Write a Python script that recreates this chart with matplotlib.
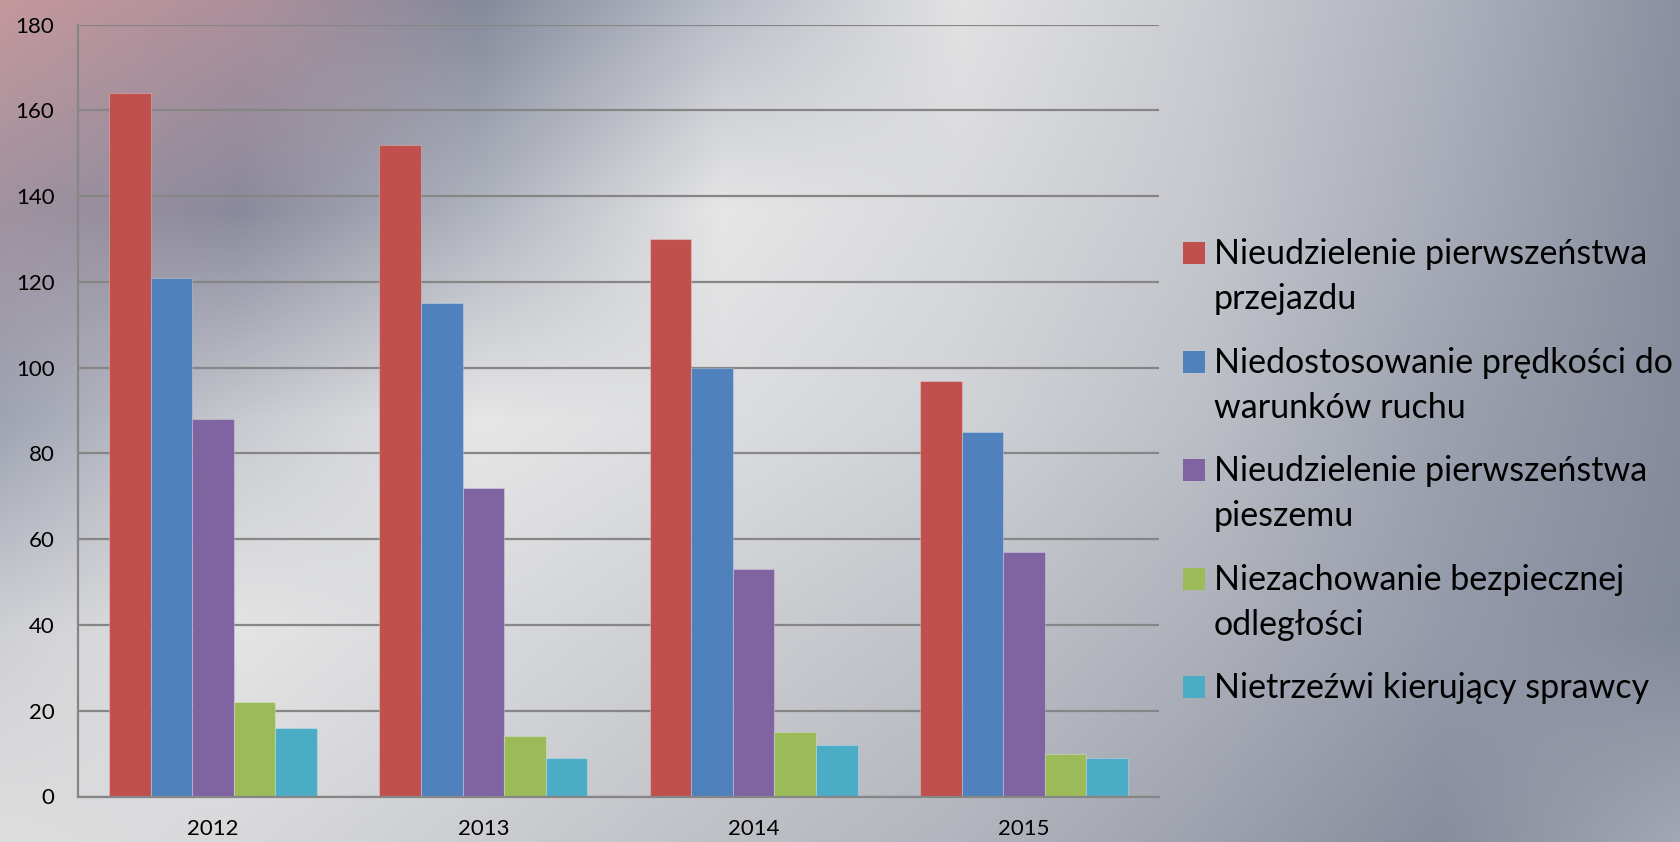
import numpy as np
import matplotlib
matplotlib.use("Agg")
import matplotlib.pyplot as plt
from matplotlib.patches import Rectangle
from matplotlib.colors import to_rgb

# ---------------- data ----------------
years = ["2012", "2013", "2014", "2015"]
series_names = [
    "Nieudzielenie pierwszeństwa\nprzejazdu",
    "Niedostosowanie prędkości do\nwarunków ruchu",
    "Nieudzielenie pierwszeństwa\npieszemu",
    "Niezachowanie bezpiecznej\nodległości",
    "Nietrzeźwi kierujący sprawcy",
]
s_przejazd = [164, 152, 130, 97]
s_predkosc = [121, 115, 100, 85]
s_pieszy = [88, 72, 53, 57]
s_odleglosc = [22, 14, 15, 10]
s_nietrzezwi = [16, 9, 12, 9]
series_values = [s_przejazd, s_predkosc, s_pieszy, s_odleglosc, s_nietrzezwi]
colors = ["#c0504d", "#4f81bd", "#8064a2", "#9bbb59", "#4bacc6"]
y_ticks = [0, 20, 40, 60, 80, 100, 120, 140, 160, 180]

W, H = 1681, 842
FONT = ["Lato", "DejaVu Sans"]
plt.rcParams["font.family"] = FONT

fig = plt.figure(figsize=(W / 100, H / 100), dpi=100)

# ---------------- background gradient ----------------
gx = [0, 240, 480, 720, 960, 1200, 1440, 1681]
gy = [0, 210, 420, 630, 842]
grid_hex = [
    ["#c4989d", "#ae909b", "#84899a", "#b8bcc6", "#e2e2e3", "#cbcdd2", "#aeb2bd", "#8a90a0"],
    ["#a0929f", "#8a8a9c", "#b0b4be", "#e6e6e6", "#d8d9dc", "#c6c8ce", "#a8acb8", "#878d9d"],
    ["#9fa4b2", "#c8cad0", "#e6e6e6", "#dcdde0", "#d0d2d6", "#bcbfc6", "#9ca1ae", "#868c9c"],
    ["#cfd0d4", "#e4e4e4", "#d8d9dc", "#ccced2", "#c0c2c8", "#aeb1ba", "#969bab", "#82899a"],
    ["#dedede", "#d8d8db", "#cbcdd1", "#bec0c6", "#b2b5bd", "#9ea2ae", "#878d9d", "#a4a8b4"],
]
grid = np.array([[to_rgb(c) for c in row] for row in grid_hex])
xs = np.arange(W)
ys = np.arange(H)
rows = np.stack([np.stack([np.interp(xs, gx, grid[r, :, ch]) for ch in range(3)], -1)
                 for r in range(len(gy))])  # (5, W, 3)
bg = np.empty((H, W, 3))
for ch in range(3):
    for i in range(W):
        bg[:, i, ch] = np.interp(ys, gy, rows[:, i, ch])
bax = fig.add_axes([0, 0, 1, 1], zorder=-10)
bax.imshow(bg, extent=[0, W, H, 0], interpolation="none", aspect="auto")
bax.axis("off")

# ---------------- main chart ----------------
left, right, top, bottom = 78, 1159, 24.7, 796.5
ax = fig.add_axes([left / W, 1 - bottom / H, (right - left) / W, (bottom - top) / H])
ax.patch.set_alpha(0)

n = len(series_values)
bw = 1 / 6.5
x = np.arange(len(years))
for i, (vals, c) in enumerate(zip(series_values, colors)):
    offs = (i - (n - 1) / 2) * bw
    ax.bar(x + offs, vals, width=bw, color=c, edgecolor=(1, 1, 1, 0.25),
           linewidth=0.8, zorder=3)

ax.set_xlim(-0.5, len(years) - 0.5)
ax.set_ylim(0, 180)
ax.set_yticks(y_ticks)
ax.set_yticklabels([str(v) for v in y_ticks])
ax.set_xticks(x)
ax.set_xticklabels(years)
ax.yaxis.grid(True, color="#868686", linewidth=1.6, zorder=1)
ax.set_axisbelow(True)
for s in ["top", "right"]:
    ax.spines[s].set_visible(False)
for s in ["left", "bottom"]:
    ax.spines[s].set_color("#868686")
    ax.spines[s].set_linewidth(1.6)
    ax.spines[s].set_zorder(4)
ax.tick_params(axis="y", length=0, pad=17, labelsize=16, colors="black")
ax.tick_params(axis="x", length=0, pad=16, labelsize=16, colors="black")

# ---------------- legend ----------------
first_top, entry_step, line_gap = 242, 108.6, 45
for j, (name, c) in enumerate(zip(series_names, colors)):
    yy = first_top + j * entry_step
    fig.patches.append(Rectangle((1183 / W, 1 - (yy + 22) / H), 22 / W, 22 / H,
                                 transform=fig.transFigure, facecolor=c,
                                 edgecolor="none"))
    for k, line in enumerate(name.split("\n")):
        fig.text(1214 / W, 1 - (yy + 22 + k * line_gap) / H, line, fontsize=24.5,
                 va="baseline", ha="left", color="black")

fig.savefig("out.png", dpi=100)
